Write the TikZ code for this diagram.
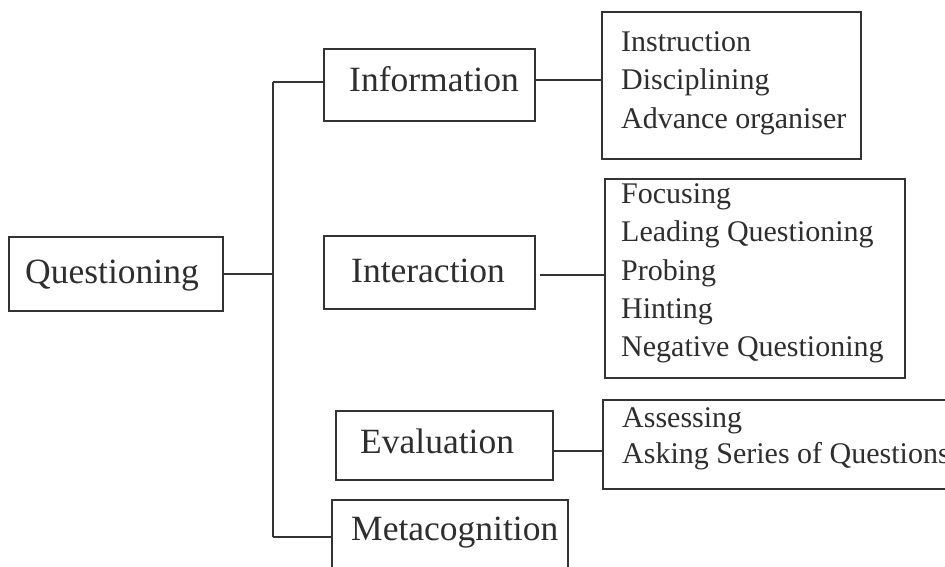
\documentclass[tikz,border=0pt]{standalone}
\usepackage{fontspec}
\setmainfont{Liberation Serif}
\definecolor{ink}{HTML}{2E2E2E}
\definecolor{rule}{HTML}{333333}
\tikzset{
  box/.style={draw=rule, line width=1.4pt, inner sep=0pt},
  link/.style={draw=rule, line width=1.4pt},
  mainlabel/.style={anchor=base west, inner sep=0pt, text=ink,
    font=\fontsize{35.5}{40}\selectfont},
  sublabel/.style={anchor=base west, inner sep=0pt, text=ink,
    font=\fontsize{30}{34}\selectfont},
}
\begin{document}
\begin{tikzpicture}[x=1pt,y=-1pt]
\clip (0,0) rectangle (945,567);
\fill[white] (0,0) rectangle (945,567);

% first level
\node[box, minimum width=214pt, minimum height=74pt] (q)     at (116,274) {};
% second level
\node[box, minimum width=211pt, minimum height=72pt] (info)  at (429.5,85) {};
\node[box, minimum width=211pt, minimum height=73pt] (inter) at (429.5,272.5) {};
\node[box, minimum width=217pt, minimum height=69pt] (eval)  at (444.5,445.5) {};
\node[box, minimum width=236pt, minimum height=90pt] (meta)  at (450,545) {};
% third level
\node[box, minimum width=259pt, minimum height=147pt] (instr) at (731.5,85.5) {};
\node[box, minimum width=300pt, minimum height=199pt] (probe) at (755,278.5) {};
\node[box, minimum width=360pt, minimum height=89pt]  (assess) at (783,444.5) {};

% labels
\node[mainlabel] (tq)     at (25,283)    {Questioning};
\node[mainlabel] (tinfo)  at (349,91.5)  {Information};
\node[mainlabel] (tinter) at (351,282)   {Interaction};
\node[mainlabel] (teval)  at (360,453)   {Evaluation};
\node[mainlabel] (tmeta)  at (351,540)   {Metacognition};

\node[sublabel] (s1) at (621,51.5)  {Instruction};
\node[sublabel] (s2) at (621,90)    {Disciplining};
\node[sublabel] (s3) at (621,128.5) {Advance organiser};

\node[sublabel] (p1) at (621,203)   {Focusing};
\node[sublabel] (p2) at (621,241.5) {Leading Questioning};
\node[sublabel] (p3) at (621,280)   {Probing};
\node[sublabel] (p4) at (621,318)   {Hinting};
\node[sublabel] (p5) at (621,356.5) {Negative Questioning};

\node[sublabel] (a1) at (622,427)   {Assessing};
\node[sublabel] (a2) at (622,463)   {Asking Series of Questions};

% connectors
\coordinate (trunktop) at (273,82);
\coordinate (trunkbot) at (273,537);
\draw[link] (q.east) -- (q.east -| trunktop);
\draw[link] (trunktop) -- (trunkbot);
\draw[link] (trunktop) -- (trunktop -| info.west);
\draw[link] (trunkbot) -- (trunkbot -| meta.west);
\draw[link] ([yshift=5pt]info.east) -- ([yshift=5pt]info.east -| instr.west);
\draw[link] ([xshift=4pt,yshift=-2.5pt]inter.east) -- ([yshift=-2.5pt]inter.east -| probe.west);
\draw[link] ([yshift=-5.5pt]eval.east) -- ([yshift=-5.5pt]eval.east -| assess.west);
\end{tikzpicture}
\end{document}
